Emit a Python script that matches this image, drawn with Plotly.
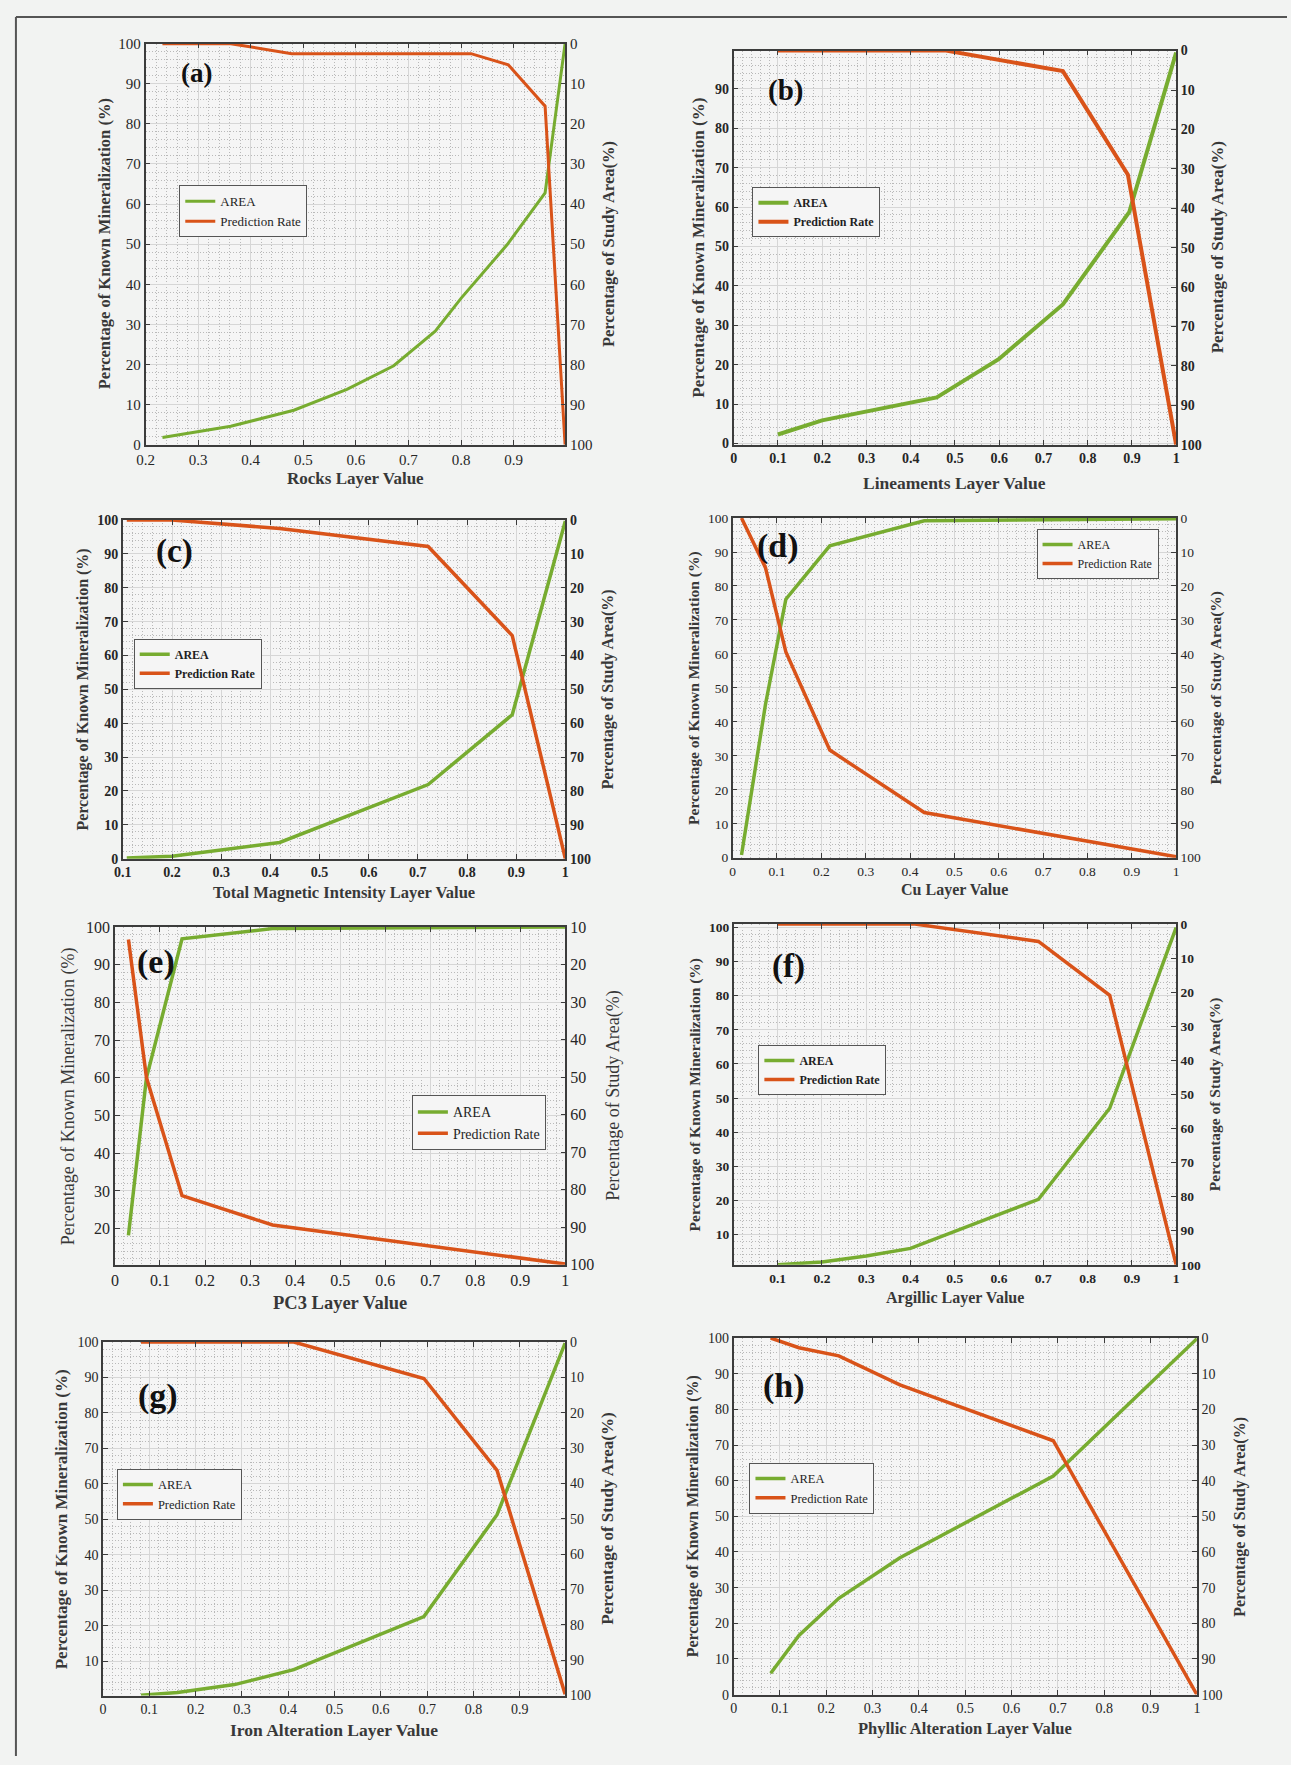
import plotly.graph_objects as go

# ---------------------------------------------------------------------------
# Data: layer value (x) vs. cumulative known mineralization (AREA, left axis)
# and prediction rate (right axis, reversed: percentage of study area)
# ---------------------------------------------------------------------------

# (a) Rocks
rocks_x_area = [0.232, 0.362, 0.482, 0.583, 0.672, 0.751, 0.800, 0.888, 0.960, 0.998]
rocks_area = [1.8, 4.6, 8.6, 13.8, 19.7, 28.3, 36.5, 49.9, 62.8, 100.0]
rocks_x_pred = [0.232, 0.362, 0.478, 0.819, 0.890, 0.960, 0.998]
rocks_pred = [0.0, 0.0, 2.5, 2.5, 5.3, 15.6, 100.0]

# (b) Lineaments
lin_x_area = [0.10, 0.20, 0.459, 0.599, 0.744, 0.894, 1.0]
lin_area = [2.3, 5.9, 11.7, 21.4, 35.3, 58.7, 99.2]
lin_x_pred = [0.10, 0.48, 0.744, 0.891, 1.0]
lin_pred = [0.0, 0.0, 5.2, 31.5, 100.0]

# (c) Total Magnetic Intensity
tmi_x = [0.108, 0.20, 0.419, 0.721, 0.892, 1.0]
tmi_area = [0.2, 0.7, 4.8, 21.9, 42.5, 99.7]
tmi_pred = [0.0, 0.0, 2.5, 7.8, 34.1, 100.0]

# (d) Cu
cu_x = [0.02, 0.074, 0.12, 0.219, 0.432, 1.0]
cu_area = [0.8, 45.1, 76.1, 91.8, 99.2, 99.8]
cu_pred = [0.0, 14.6, 39.4, 68.3, 86.7, 99.7]

# (e) PC3
pc3_x = [0.03, 0.07, 0.149, 0.35, 1.0]
pc3_area = [18.2, 60.0, 96.9, 99.6, 100.0]
pc3_pred = [13.3, 50.1, 81.6, 89.4, 99.8]

# (f) Argillic
arg_x_area = [0.10, 0.20, 0.30, 0.40, 0.689, 0.85, 1.0]
arg_area = [1.1, 1.9, 3.7, 5.9, 20.3, 47.0, 100.0]
arg_x_pred = [0.10, 0.41, 0.689, 0.85, 1.0]
arg_pred = [0.0, 0.0, 5.1, 20.9, 100.0]

# (g) Iron Alteration
iron_x_area = [0.082, 0.161, 0.284, 0.412, 0.693, 0.851, 0.998]
iron_area = [0.4, 1.2, 3.4, 7.6, 22.6, 51.3, 99.7]
iron_x_pred = [0.082, 0.412, 0.693, 0.851, 0.998]
iron_pred = [0.0, 0.0, 10.3, 36.3, 99.6]

# (h) Phyllic Alteration
phy_x = [0.08, 0.141, 0.227, 0.359, 0.69, 1.0]
phy_area = [6.0, 16.6, 27.0, 38.4, 61.3, 99.8]
phy_pred = [0.0, 2.7, 5.0, 13.1, 28.8, 100.0]

# ---------------------------------------------------------------------------
W, H = 1291, 1765
SERIF = "Liberation Serif"
GREEN = "#77ac30"
ORANGE = "#d95319"
AXIS = "#3c3c3c"
TXT = "#262626"
TITLE_TXT = "#383838"
MAJOR_GRID = "#d6d6d6"
MINOR_GRID = "#b9b9b9"
MINOR_DASH = "1px,2px"

LEFT_TITLE = "Percentage of Known Mineralization (%)"
RIGHT_TITLE = "Percentage of Study Area(%)"

panels = [
    dict(tag="(a)", xt="Rocks Layer Value",
         xa=rocks_x_area, ya=rocks_area, xp=rocks_x_pred, yp=rocks_pred,
         box=(138, 562, 36, 441), xr=[0.2, 0.9985], ylr=[0, 100], yrr=[100, 0],
         tickb=False, titleb=True, legb=False, tfs=15, ttl=16.5, lfs=13, lw=3,
         tagxy=(189, 66), tagfs=27, lt=(96, 605, 475), leg=(172, 179)),
    dict(tag="(b)", xt="Lineaments Layer Value",
         xa=lin_x_area, ya=lin_area, xp=lin_x_pred, yp=lin_pred,
         box=(732, 1179, 43, 441), xr=[0, 1], ylr=[-0.3, 99.7], yrr=[100, 0],
         tickb=True, titleb=True, legb=True, tfs=14, ttl=17, lfs=12, lw=4,
         tagxy=(784, 83), tagfs=29, lt=(697, 1221, 480), leg=(751, 181)),
    dict(tag="(c)", xt="Total Magnetic Intensity Layer Value",
         xa=tmi_x, ya=tmi_area, xp=tmi_x, yp=tmi_pred,
         box=(115, 562, 517, 859), xr=[0.1, 1], ylr=[0, 100], yrr=[100, 0],
         tickb=True, titleb=True, legb=True, tfs=14, ttl=16, lfs=12, lw=3.5,
         tagxy=(167, 549), tagfs=33, lt=(75, 605, 893), leg=(126, 637)),
    dict(tag="(d)", xt="Cu Layer Value",
         xa=cu_x, ya=cu_area, xp=cu_x, yp=cu_pred,
         box=(731, 1179, 515, 858), xr=[0, 1], ylr=[0, 100], yrr=[100, 0],
         tickb=False, titleb=True, legb=False, tfs=13.5, ttl=15.5, lfs=12, lw=3.5,
         tagxy=(777, 543), tagfs=34, lt=(692, 1219, 891), leg=(1038, 526)),
    dict(tag="(e)", xt="PC3 Layer Value",
         xa=pc3_x, ya=pc3_area, xp=pc3_x, yp=pc3_pred,
         box=(107, 562, 928, 1269), xr=[0, 1], ylr=[10.4, 100], yrr=[100, 10],
         tickb=False, titleb=False, legb=False, tfs=16, ttl=18, lfs=14, lw=3.5,
         tagxy=(148, 963), tagfs=34, lt=(61, 611, 1308), leg=(407, 1098)),
    dict(tag="(f)", xt="Argillic Layer Value",
         xa=arg_x_area, ya=arg_area, xp=arg_x_pred, yp=arg_pred,
         box=(732, 1179, 925, 1269), xr=[0.0005, 1], ylr=[1.1, 101], yrr=[100, 0],
         tickb=True, titleb=True, legb=True, tfs=13.5, ttl=15.5, lfs=12, lw=3.5,
         tagxy=(787, 968), tagfs=33, lt=(693, 1219, 1303), leg=(757, 1047)),
    dict(tag="(g)", xt="Iron Alteration Layer Value",
         xa=iron_x_area, ya=iron_area, xp=iron_x_pred, yp=iron_pred,
         box=(95, 562, 1347, 1704), xr=[0, 0.9985], ylr=[0.3, 100], yrr=[100, 0],
         tickb=False, titleb=True, legb=False, tfs=14, ttl=17, lfs=12.5, lw=3.5,
         tagxy=(151, 1401), tagfs=34, lt=(53, 605, 1739), leg=(109, 1475)),
    dict(tag="(h)", xt="Phyllic Alteration Layer Value",
         xa=phy_x, ya=phy_area, xp=phy_x, yp=phy_pred,
         box=(732, 1200, 1343, 1703), xr=[0, 1], ylr=[0, 100], yrr=[100, 0],
         tickb=False, titleb=True, legb=False, tfs=14, ttl=16, lfs=12.5, lw=3.5,
         tagxy=(783, 1391), tagfs=34, lt=(691, 1244, 1737), leg=(748, 1469)),
]

fig = go.Figure()
layout = dict(
    width=W, height=H,
    margin=dict(l=0, r=0, t=0, b=0),
    paper_bgcolor="#f2f3f2",
    plot_bgcolor="#f5f5f5",
    showlegend=True,
    annotations=[],
    shapes=[],
)


def weight(flag):
    return "bold" if flag else "normal"


for i, p in enumerate(panels):
    xn = i + 1
    yl = 2 * i + 1
    yr = 2 * i + 2
    xid = "x" if xn == 1 else f"x{xn}"
    ylid = "y" if yl == 1 else f"y{yl}"
    yrid = f"y{yr}"
    legid = "legend" if i == 0 else f"legend{i + 1}"

    fig.add_trace(go.Scatter(
        x=p["xa"], y=p["ya"], mode="lines", name="AREA",
        line=dict(color=GREEN, width=p["lw"]),
        xaxis=xid, yaxis=ylid, legend=legid, hoverinfo="skip"))
    fig.add_trace(go.Scatter(
        x=p["xp"], y=p["yp"], mode="lines", name="Prediction Rate",
        line=dict(color=ORANGE, width=p["lw"]),
        xaxis=xid, yaxis=yrid, legend=legid, hoverinfo="skip"))

    l, r, t, b = p["box"]
    xdom = [l / W, r / W]
    ydom = [1 - b / H, 1 - t / H]
    tickfont = dict(family=SERIF, size=p["tfs"], color=TXT, weight=weight(p["tickb"]))

    layout["xaxis" if xn == 1 else f"xaxis{xn}"] = dict(
        domain=xdom, anchor=ylid, range=p["xr"],
        tickmode="linear", tick0=0, dtick=0.1,
        ticks="inside", ticklen=5, tickwidth=1, tickcolor=AXIS,
        showline=True, linecolor=AXIS, linewidth=1.5, mirror="ticks",
        showgrid=True, gridcolor=MAJOR_GRID, gridwidth=1, zeroline=False,
        minor=dict(tick0=0, dtick=0.02, showgrid=True, gridcolor=MINOR_GRID,
                   griddash=MINOR_DASH, gridwidth=1, ticks=""),
        tickfont=tickfont, fixedrange=True,
    )
    layout["yaxis" if yl == 1 else f"yaxis{yl}"] = dict(
        domain=ydom, anchor=xid, range=p["ylr"],
        tickmode="linear", tick0=0, dtick=10,
        ticks="inside", ticklen=5, tickwidth=1, tickcolor=AXIS,
        showline=True, linecolor=AXIS, linewidth=1.5,
        showgrid=True, gridcolor=MAJOR_GRID, gridwidth=1, zeroline=False,
        minor=dict(tick0=0, dtick=2, showgrid=True, gridcolor=MINOR_GRID,
                   griddash=MINOR_DASH, gridwidth=1, ticks=""),
        tickfont=tickfont, fixedrange=True,
    )
    layout[f"yaxis{yr}"] = dict(
        anchor=xid, overlaying=ylid, side="right", range=p["yrr"],
        tickmode="linear", tick0=0, dtick=10,
        ticks="inside", ticklen=5, tickwidth=1, tickcolor=AXIS,
        showline=True, linecolor=AXIS, linewidth=1.5,
        showgrid=False, zeroline=False,
        tickfont=tickfont, fixedrange=True,
    )

    lx, ly = p["leg"]
    layout[legid] = dict(
        x=lx / W, y=1 - ly / H, xanchor="left", yanchor="top",
        xref="paper", yref="paper",
        bgcolor="#f5f5f5", bordercolor="#555555", borderwidth=1,
        font=dict(family=SERIF, size=p["lfs"], color="#1f1f1f", weight=weight(p["legb"])),
        itemwidth=30, tracegroupgap=0, traceorder="normal",
    )

    # panel tag
    tx, ty = p["tagxy"]
    layout["annotations"].append(dict(
        x=tx / W, y=1 - ty / H, xref="paper", yref="paper",
        text=p["tag"], showarrow=False, xanchor="center", yanchor="middle",
        font=dict(family=SERIF, size=p["tagfs"], color="#111111", weight="bold")))

    # axis titles
    ltx, rtx, xty = p["lt"]
    ymid = (t + b) / 2
    xmid = (l + r) / 2
    yfont = dict(family=SERIF, size=p["ttl"], color=TITLE_TXT, weight=weight(p["titleb"]))
    layout["annotations"].append(dict(
        x=ltx / W, y=1 - ymid / H, xref="paper", yref="paper",
        text=LEFT_TITLE, textangle=-90, showarrow=False,
        xanchor="center", yanchor="middle", font=yfont))
    layout["annotations"].append(dict(
        x=rtx / W, y=1 - ymid / H, xref="paper", yref="paper",
        text=RIGHT_TITLE, textangle=-90, showarrow=False,
        xanchor="center", yanchor="middle", font=yfont))
    layout["annotations"].append(dict(
        x=xmid / W, y=1 - xty / H, xref="paper", yref="paper",
        text=p["xt"], showarrow=False, xanchor="center", yanchor="middle",
        font=dict(family=SERIF, size=p["ttl"] + 0.5, color=TITLE_TXT, weight="bold")))

# outer frame (top and left edges)
layout["shapes"].append(dict(type="line", xref="paper", yref="paper",
                             x0=7 / W, x1=1.0, y0=1 - 9 / H, y1=1 - 9 / H,
                             line=dict(color="#555555", width=2)))
layout["shapes"].append(dict(type="line", xref="paper", yref="paper",
                             x0=7 / W, x1=7 / W, y0=0, y1=1 - 9 / H,
                             line=dict(color="#555555", width=2)))

fig.update_layout(**layout)
fig.write_html("out.html")
